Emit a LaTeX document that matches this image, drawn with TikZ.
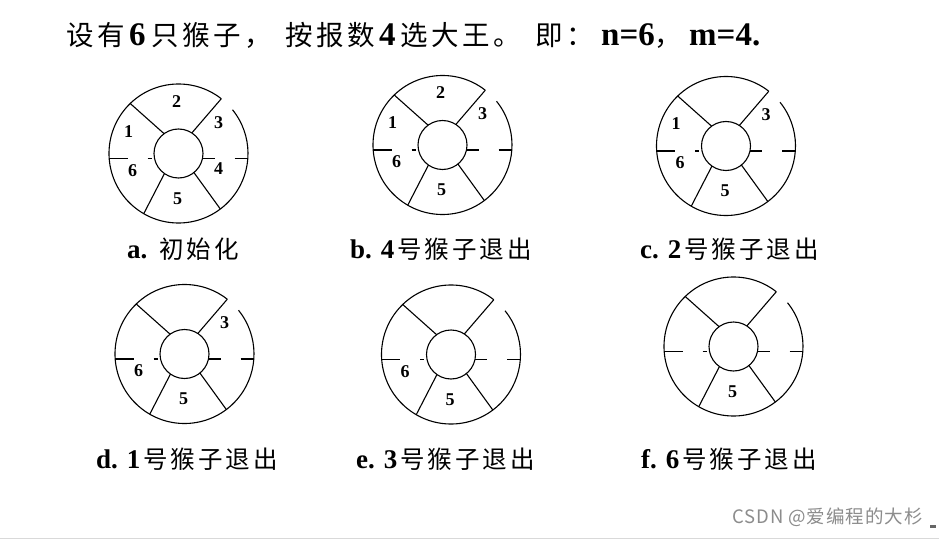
\documentclass[tikz,border=0pt]{standalone}
\usepackage{fontspec}
\setmainfont{Liberation Serif}
\newfontfamily\cjk[LetterSpace=12]{Noto Sans CJK SC}
\newfontfamily\wmfont[LetterSpace=5]{Noto Sans CJK SC}
\usetikzlibrary{calc}
\newcommand\zh[2]{{\fontsize{#1}{#1}\selectfont\cjk\mdseries #2}}
\tikzset{
  ring/.style={line width=1.1pt},
  hub/.style={circle,draw,line width=1.1pt,minimum size=49pt,inner sep=0pt},
  num/.style={font=\fontsize{18}{18}\selectfont\bfseries,inner sep=0pt},
  captext/.style={anchor=base west,inner sep=0pt,font=\fontsize{27}{27}\selectfont\bfseries},
  ttl/.style={anchor=base west,inner sep=0pt,font=\fontsize{33}{36}\selectfont\bfseries},
  ttlzh/.style={anchor=base west,inner sep=0pt,font=\fontsize{27.5}{30}\selectfont\cjk\mdseries},
}
\newcommand\wheel[3]{%
  \coordinate (#1) at (#2,#3);
  \node[hub] (#1-hub) at (#1) {};
  \draw[ring] ($(#1)+(52:69.5)$) arc[start angle=52,end angle=399,radius=69.5];
  \draw[ring] ($(#1)+(126:24.5)$) -- ($(#1)+(134:69.5)$);
  \draw[ring] ($(#1)+(57:24.5)$) -- ($(#1)+(52:69.5)$);
  \draw[ring] ($(#1)+(235:24.5)$) -- ($(#1)+(240:69.5)$);
  \draw[ring] ($(#1)+(309:24.5)$) -- ($(#1)+(307:69.5)$);
  \draw[ring] ($(#1)+(-69.3,-5)$) -- ($(#1)+(-51,-5)$);
  \draw[ring] ($(#1)+(-31,-5)$) -- ($(#1)+(-27,-5)$);
  \draw[ring] ($(#1)+(24,-5)$) -- ($(#1)+(36,-5)$);
  \draw[ring] ($(#1)+(56,-5)$) -- ($(#1)+(69.3,-5)$);
}
\newcommand\monkA[1]{\node[num] (#1-1) at ($(#1)+(-50,22)$) {1};}
\newcommand\monkB[1]{\node[num] (#1-2) at ($(#1)+(-2,52)$) {2};}
\newcommand\monkC[1]{\node[num] (#1-3) at ($(#1)+(40,31)$) {3};}
\newcommand\monkD[1]{\node[num] (#1-4) at ($(#1)+(40,-15)$) {4};}
\newcommand\monkE[1]{\node[num] (#1-5) at ($(#1)+(-1,-45)$) {5};}
\newcommand\monkF[1]{\node[num] (#1-6) at ($(#1)+(-46,-17)$) {6};}
\begin{document}
\begin{tikzpicture}[x=1pt,y=1pt]
\useasboundingbox (0,0) rectangle (939,-540);
\fill[white] (0,0) rectangle (939,-540);
% title
\node[ttlzh] (t1) at (66.5,-45.5) {设有};
\node[ttl]   (t2) at (129,-45.5) {6};
\node[ttlzh] (t3) at (151.5,-45.5) {只猴子，};
\node[ttlzh] (t4) at (285.5,-45.5) {按报数};
\node[ttl]   (t5) at (379,-45.5) {4};
\node[ttlzh] (t6) at (400.5,-45.5) {选大王。};
\node[ttlzh] (t7) at (535.5,-45.5) {即：};
\node[ttl]   (t8) at (601,-45.5) {n=6};
\node[ttlzh] (t9) at (654,-45.5) {，};
\node[ttl]   (t10) at (689,-45.5) {m=4.};
% wheels
\wheel{a}{178.5}{-153.5}
\wheel{b}{442.5}{-145}
\wheel{c}{726}{-146}
\wheel{d}{184.5}{-354}
\wheel{e}{451}{-354.5}
\wheel{f}{733.5}{-346.5}
\monkA{a}\monkB{a}\monkC{a}\monkD{a}\monkE{a}\monkF{a}
\monkA{b}\monkB{b}\monkC{b}\monkE{b}\monkF{b}
\monkA{c}\monkC{c}\monkE{c}\monkF{c}
\monkC{d}\monkE{d}\monkF{d}
\monkE{e}\monkF{e}
\monkE{f}
% captions
\node[captext] (capa) at (127,-258) {a. \hspace{3pt}\zh{24.5}{初始化}};
\node[captext] (capb) at (350,-258) {b. 4\hspace{3pt}\zh{24.5}{号猴子退出}};
\node[captext] (capc) at (640,-258) {c. 2\hspace{3pt}\zh{24.5}{号猴子退出}};
\node[captext] (capd) at (96,-468) {d. 1\hspace{3pt}\zh{24.5}{号猴子退出}};
\node[captext] (cape) at (356,-468) {e. 3\hspace{3pt}\zh{24.5}{号猴子退出}};
\node[captext] (capf) at (641,-468) {f. 6\hspace{3pt}\zh{24.5}{号猴子退出}};
% watermark
\node[anchor=base west,inner sep=0pt,text=black!45,font=\wmfont\fontsize{18.5}{18.5}\selectfont] (wm) at (732,-523) {CSDN @爱编程的大杉};
\fill[black!60] (930,-525) rectangle (936,-528);
\draw[black!15,line width=1pt] (0,-538) -- (939,-538);
\end{tikzpicture}
\end{document}
